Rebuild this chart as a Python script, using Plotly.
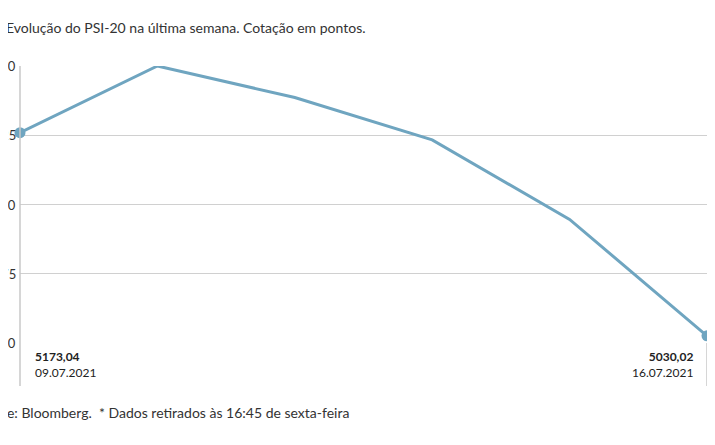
import plotly.graph_objects as go

dias = ["09.07.2021", "12.07.2021", "13.07.2021", "14.07.2021", "15.07.2021", "16.07.2021"]
cotacao = [5173.04, 5220.0, 5197.8, 5168.0, 5112.0, 5030.02]
tick_vals = [5220.00, 5171.25, 5122.50, 5073.75, 5025.00]
tick_text = ["5220,00", "5171,25", "5122,50", "5073,75", "5025,00"]

W, H = 715, 445
L, R, T, B = 12, 16, 58, 110
# plot area as it lands in the page (the page adds an 8px offset)
X0, X1, Y0, Y1 = 20, 707, 66, 343
azul = "#6fa5c0"
fonte = "Lato"


def px(x):
    return (x - X0) / (X1 - X0)


def py(y):
    return (Y1 - y) / (Y1 - Y0)


fig = go.Figure()
fig.add_trace(go.Scatter(
    x=list(range(len(dias))), y=cotacao, mode="lines",
    line=dict(color=azul, width=3), hoverinfo="skip",
))
fig.add_trace(go.Scatter(
    x=[0, len(dias) - 1], y=[cotacao[0], cotacao[-1]], mode="markers",
    marker=dict(color=azul, size=11), cliponaxis=False, hoverinfo="skip",
))

fig.update_layout(
    width=W, height=H, margin=dict(l=L, r=R, t=T, b=B),
    plot_bgcolor="white", paper_bgcolor="white", showlegend=False,
    font=dict(family=fonte, color="#333", size=13),
    xaxis=dict(range=[0, len(dias) - 1], showgrid=False, showticklabels=False,
               zeroline=False),
    yaxis=dict(range=[5025, 5220], tickvals=tick_vals, showticklabels=False,
               gridcolor="#d0d0d0", gridwidth=1, zeroline=False),
)

# y tick labels sit left of the axis (cut off by the page edge, as in the source)
for v, t in zip(tick_vals, tick_text):
    fig.add_annotation(x=0, y=v, xref="paper", yref="y", text=t, showarrow=False,
                       xanchor="right", xshift=-2, font=dict(size=13, color="#333"))

# axis lines
fig.add_shape(type="line", xref="paper", yref="paper", x0=0, x1=0, y0=1, y1=py(386),
              line=dict(color="#c8c8c8", width=1.5))
fig.add_shape(type="line", xref="paper", yref="paper", x0=1, x1=1, y0=0, y1=py(386),
              line=dict(color="#c8c8c8", width=1.5))

# end labels
fig.add_annotation(x=px(33), y=py(347), xref="paper", yref="paper", yanchor="top",
                   xanchor="left", showarrow=False, align="left",
                   text="<b>5173,04</b><br>09.07.2021", font=dict(size=12, color="#222"))
fig.add_annotation(x=px(695), y=py(347), xref="paper", yref="paper", yanchor="top",
                   xanchor="right", showarrow=False, align="right",
                   text="<b>5030,02</b><br>16.07.2021", font=dict(size=12, color="#222"))

# title and source, starting off the left edge
fig.add_annotation(x=px(368), y=py(27), xref="paper", yref="paper",
                   xanchor="right", yanchor="middle", showarrow=False,
                   text="Evolução do PSI-20 na última semana. Cotação em pontos.",
                   font=dict(size=14, color="#333"))
fig.add_annotation(x=px(351), y=py(412), xref="paper", yref="paper",
                   xanchor="right", yanchor="middle", showarrow=False,
                   text="Fonte: Bloomberg.  * Dados retirados às 16:45 de sexta-feira",
                   font=dict(size=14, color="#333"))

fig.write_html("out.html")
